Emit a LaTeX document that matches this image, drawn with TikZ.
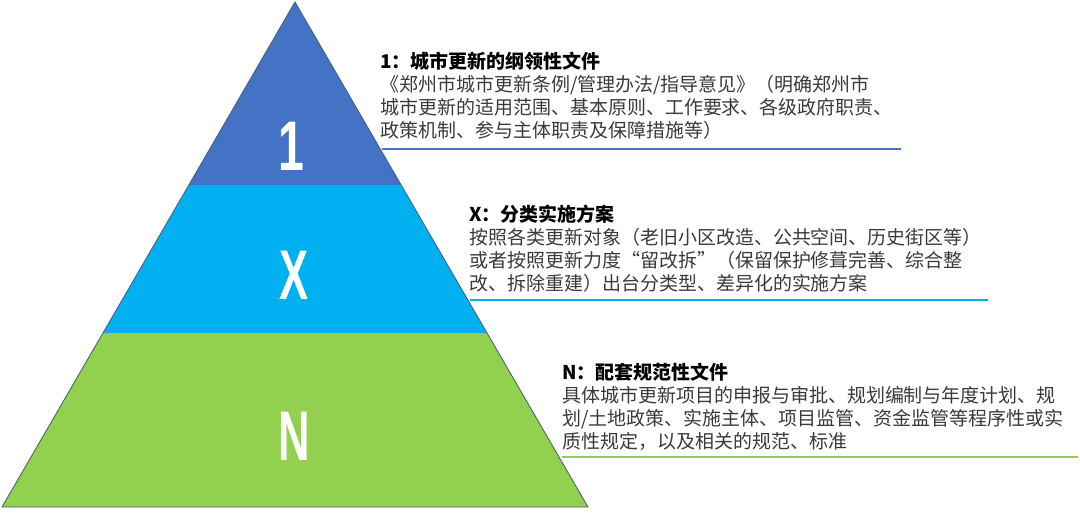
\documentclass[tikz,border=0pt]{standalone}
\usepackage{fontspec}
\setmainfont{Noto Sans CJK SC}
\newfontfamily\numfam{Liberation Sans}
\usetikzlibrary{positioning}

\definecolor{tierone}{RGB}{68,114,196}
\definecolor{tierx}{RGB}{0,176,240}
\definecolor{tiern}{RGB}{146,208,80}
\definecolor{edgegray}{RGB}{72,92,122}
\definecolor{bodygray}{RGB}{58,58,58}

\begin{document}
\begin{tikzpicture}[
    x=0.025cm, y=-0.025cm,
    % Styles
    band/.style={draw=none},
    digit/.style={text=white, inner sep=0pt, font=\fontsize{50}{50}\selectfont\numfam\bfseries},
    block/.style={anchor=north west, inner sep=0pt, align=left, text=bodygray, font=\fontsize{13.5}{16.2}\selectfont},
    rule/.style={line width=1.8pt},
]

\useasboundingbox[fill=white] (0,0) rectangle (1080,516);

% Pyramid bands
\fill[band, tierone] (295,2) -- (401,185) -- (189,185) -- cycle;
\fill[band, tierx] (189,185) -- (401,185) -- (487,333) -- (103,333) -- cycle;
\fill[band, tiern] (103,333) -- (487,333) -- (588,507) -- (2,507) -- cycle;
\draw[edgegray, line width=0.6pt, line join=round] (295,2) -- (588,507) -- (2,507) -- cycle;

% Tier labels
\node[digit] (one) at (291,146) {\scalebox{0.66}[1]{1}};
\node[digit] (ex) at (294,275) {\scalebox{0.62}[1]{X}};
\node[digit] (en) at (294,436) {\scalebox{0.62}[1]{N}};

% Text blocks
\node[block] (blk1) at (380,52)
    {\textcolor{black}{\bfseries 1：城市更新的纲领性文件}\\
     《郑州市城市更新条例/管理办法/指导意见》（明确郑州市\\
     城市更新的适用范围、基本原则、工作要求、各级政府职责、\\
     政策机制、参与主体职责及保障措施等）};

\node[block] (blk2) at (469,205)
    {\textcolor{black}{\bfseries X：分类实施方案}\\
     按照各类更新对象（老旧小区改造、公共空间、历史街区等）\\
     或者按照更新力度“留改拆”（保留保护修葺完善、综合整\\
     改、拆除重建）出台分类型、差异化的实施方案};

\node[block] (blk3) at (562,363)
    {\textcolor{black}{\bfseries N：配套规范性文件}\\
     具体城市更新项目的申报与审批、规划编制与年度计划、规\\
     划/土地政策、实施主体、项目监管、资金监管等程序性或实\\
     质性规定，以及相关的规范、标准};

% Underlines
\coordinate (u1a) at (382,149);
\coordinate (u1b) at (901,149);
\coordinate (u2a) at (470,300);
\coordinate (u2b) at (988,300);
\coordinate (u3a) at (562,457);
\coordinate (u3b) at (1078,457);
\draw[rule, tierone] (u1a) -- (u1b);
\draw[rule, tierx] (u2a) -- (u2b);
\draw[rule, tiern] (u3a) -- (u3b);

\end{tikzpicture}
\end{document}
